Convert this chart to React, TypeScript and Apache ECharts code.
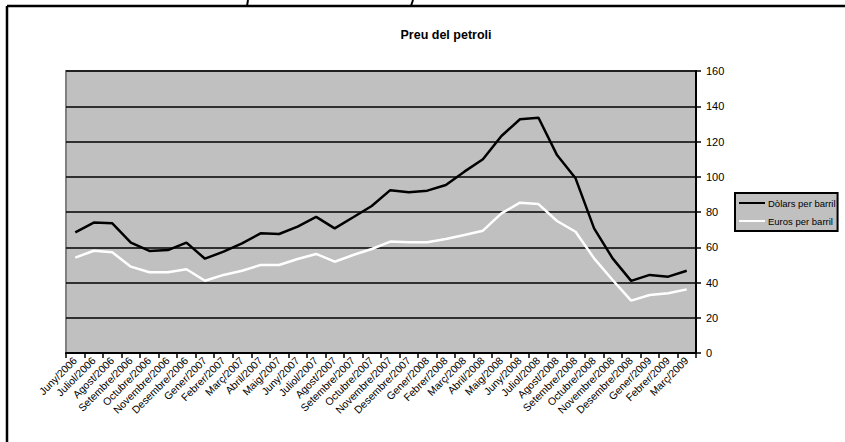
import React, { useEffect, useRef } from "react";
import * as echarts from "echarts";

const categories = [
  "Juny/2006", "Juliol/2006", "Agost/2006", "Setembre/2006", "Octubre/2006", "Novembre/2006",
  "Desembre/2006", "Gener/2007", "Febrer/2007", "Març/2007", "Abril/2007", "Maig/2007",
  "Juny/2007", "Juliol/2007", "Agost/2007", "Setembre/2007", "Octubre/2007", "Novembre/2007",
  "Desembre/2007", "Gener/2008", "Febrer/2008", "Març/2008", "Abril/2008", "Maig/2008",
  "Juny/2008", "Juliol/2008", "Agost/2008", "Setembre/2008", "Octubre/2008", "Novembre/2008",
  "Desembre/2008", "Gener/2009", "Febrer/2009", "Març/2009",
];

const dolars = [
  68.5, 74.0, 73.6, 62.6, 57.9, 58.4, 62.6, 53.5, 57.5, 62.2, 67.9, 67.5,
  71.7, 77.2, 70.7, 77.0, 83.4, 92.4, 91.2, 92.1, 95.3, 102.9, 109.9, 123.1,
  132.6, 133.5, 112.3, 99.1, 70.7, 53.7, 40.9, 44.3, 43.3, 46.7,
];

const euros = [
  54.1, 58.0, 57.1, 49.0, 45.8, 45.8, 47.5, 41.0, 44.3, 46.7, 49.9, 49.9,
  53.3, 56.2, 51.8, 55.6, 59.0, 63.2, 62.8, 62.8, 64.7, 66.9, 69.4, 79.2,
  85.3, 84.5, 74.9, 68.8, 53.7, 41.4, 29.7, 32.9, 33.9, 36.1,
];

const seriesNames = ["Dòlars per barril", "Euros per barril"];
const titleText = "Preu del petroli";

const FONT = "'Liberation Sans', Arial, sans-serif";

export default function App() {
  const ref = useRef<HTMLDivElement>(null);
  useEffect(() => {
    if (!ref.current) return;
    const chart = echarts.init(ref.current, null, { renderer: "svg" });
    chart.setOption({
      animation: false,
      backgroundColor: "#ffffff",
      textStyle: { fontFamily: FONT },
      title: {
        text: titleText,
        left: 441,
        top: 23,
        textAlign: "center",
        textStyle: { fontFamily: FONT, fontSize: 12.5, fontWeight: "bold", color: "#000" },
      },
      legend: {
        orient: "vertical",
        left: 735,
        top: 193,
        backgroundColor: "#c0c0c0",
        borderColor: "#000",
        borderWidth: 2,
        borderRadius: 0,
        padding: [5, 2, 5, 4],
        itemGap: 8,
        itemWidth: 26,
        itemHeight: 2,
        icon: "rect",
        textStyle: { fontFamily: FONT, fontSize: 9.5, color: "#000", padding: [0, 0, 0, -2] },
        data: [
          { name: seriesNames[0], itemStyle: { color: "#000" } },
          { name: seriesNames[1], itemStyle: { color: "#fff" } },
        ],
      },
      grid: {
        left: 66,
        top: 71,
        width: 630,
        height: 282,
        show: true,
        backgroundColor: "#c0c0c0",
        borderColor: "#808080",
        borderWidth: 2,
      },
      xAxis: {
        type: "category",
        data: categories,
        boundaryGap: true,
        axisLine: { show: true, lineStyle: { color: "#000", width: 2 } },
        axisTick: { show: true, length: 5, lineStyle: { color: "#000", width: 1.5 } },
        axisLabel: {
          interval: 0,
          rotate: 45,
          margin: 6,
          fontSize: 10.5,
          fontFamily: FONT,
          color: "#000",
        },
        splitLine: { show: false },
      },
      yAxis: {
        type: "value",
        position: "right",
        min: 0,
        max: 160,
        interval: 20,
        axisLine: { show: true, lineStyle: { color: "#000", width: 2 } },
        axisTick: { show: true, length: 5, lineStyle: { color: "#000", width: 1.5 } },
        axisLabel: { margin: 10, fontSize: 11, fontFamily: FONT, color: "#000" },
        splitLine: { show: true, lineStyle: { color: "#000", width: 1.5 } },
      },
      series: [
        {
          name: seriesNames[0],
          type: "line",
          data: dolars,
          symbol: "none",
          lineStyle: { color: "#000", width: 2.5 },
          itemStyle: { color: "#000" },
        },
        {
          name: seriesNames[1],
          type: "line",
          data: euros,
          symbol: "none",
          lineStyle: { color: "#fff", width: 2.5 },
          itemStyle: { color: "#fff" },
        },
      ],
      graphic: [
        { type: "line", shape: { x1: 7, y1: 6, x2: 845, y2: 6 }, style: { stroke: "#000", lineWidth: 2.5 } },
        { type: "line", shape: { x1: 7, y1: 6, x2: 7, y2: 442 }, style: { stroke: "#000", lineWidth: 2.5 } },
        { type: "line", shape: { x1: 248, y1: 0, x2: 247, y2: 6 }, style: { stroke: "#000", lineWidth: 2 } },
        { type: "line", shape: { x1: 413, y1: 0, x2: 411, y2: 6 }, style: { stroke: "#000", lineWidth: 2 } },
      ],
    });
    return () => chart.dispose();
  }, []);
  return (
    <div
      ref={ref}
      style={{ position: "fixed", left: 0, top: 0, width: 845, height: 442 }}
    />
  );
}
